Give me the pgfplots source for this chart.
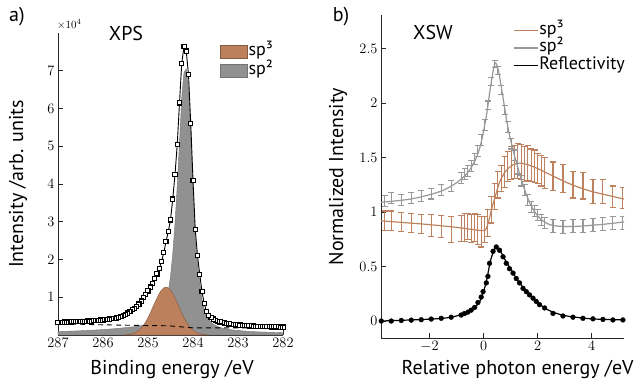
\documentclass[border=0pt]{standalone}
\usepackage{pgfplots}
\pgfplotsset{compat=1.18}
\usepackage{pgfplotstable}
\usepackage{fontspec}
\setmainfont{PT Sans}
\definecolor{sp3fill}{RGB}{189,128,92}
\definecolor{sp2fill}{RGB}{145,145,145}
\definecolor{sp3line}{RGB}{190,130,95}
\definecolor{sp2line}{RGB}{152,152,152}

\pgfplotstableread{
x y sp2 bg
282.00 0.21 0.060 0.19
282.05 0.21 0.062 0.19
282.10 0.21 0.064 0.19
282.15 0.215 0.066 0.19
282.20 0.215 0.068 0.19
282.25 0.215 0.070 0.19
282.30 0.22 0.072 0.19
282.35 0.22 0.074 0.19
282.40 0.22 0.076 0.19
282.45 0.225 0.078 0.19
282.50 0.225 0.080 0.19
282.55 0.23 0.083 0.19
282.60 0.23 0.086 0.19
282.65 0.235 0.089 0.19
282.70 0.235 0.092 0.19
282.75 0.24 0.095 0.19
282.80 0.245 0.100 0.19
282.85 0.25 0.105 0.19
282.90 0.255 0.110 0.19
282.95 0.26 0.115 0.19
283.00 0.265 0.120 0.19
283.05 0.27 0.125 0.19
283.10 0.28 0.130 0.19
283.15 0.285 0.140 0.19
283.20 0.295 0.150 0.19
283.25 0.305 0.160 0.19
283.30 0.315 0.170 0.19
283.35 0.33 0.185 0.19
283.40 0.345 0.200 0.19
283.45 0.365 0.225 0.19
283.50 0.39 0.255 0.19
283.55 0.42 0.290 0.19
283.60 0.46 0.340 0.19
283.65 0.52 0.410 0.19
283.70 0.62 0.520 0.19
283.75 0.83 0.680 0.19
283.80 1.15 0.950 0.19
283.85 1.60 1.380 0.19
283.90 2.10 1.880 0.19
283.95 2.80 2.550 0.19
284.00 4.10 3.850 0.19
284.05 5.60 5.350 0.195
284.10 6.90 6.550 0.20
284.15 7.52 7.050 0.205
284.20 7.64 6.950 0.21
284.25 7.20 6.300 0.215
284.30 6.15 5.100 0.22
284.35 5.05 3.950 0.225
284.40 4.25 2.950 0.23
284.45 3.60 2.150 0.235
284.50 3.05 1.550 0.24
284.55 2.74 1.150 0.243
284.60 2.47 0.880 0.245
284.65 2.18 0.700 0.246
284.70 1.94 0.570 0.247
284.75 1.76 0.480 0.248
284.80 1.62 0.420 0.249
284.85 1.50 0.370 0.25
284.90 1.37 0.340 0.25
284.95 1.27 0.310 0.25
285.00 1.17 0.290 0.25
285.05 1.08 0.275 0.251
285.10 0.99 0.260 0.252
285.15 0.90 0.250 0.253
285.20 0.82 0.240 0.254
285.25 0.76 0.230 0.255
285.30 0.71 0.222 0.256
285.35 0.67 0.215 0.257
285.40 0.62 0.208 0.258
285.45 0.58 0.200 0.259
285.50 0.54 0.195 0.26
285.55 0.51 0.190 0.261
285.60 0.49 0.183 0.262
285.65 0.47 0.177 0.263
285.70 0.455 0.172 0.264
285.75 0.44 0.167 0.265
285.80 0.43 0.162 0.266
285.85 0.42 0.158 0.267
285.90 0.41 0.153 0.268
285.95 0.405 0.149 0.269
286.00 0.40 0.145 0.27
286.05 0.395 0.141 0.271
286.10 0.39 0.137 0.273
286.15 0.385 0.134 0.274
286.20 0.38 0.131 0.276
286.25 0.375 0.128 0.277
286.30 0.37 0.125 0.279
286.35 0.37 0.122 0.28
286.40 0.365 0.119 0.282
286.45 0.36 0.116 0.283
286.50 0.36 0.113 0.285
286.55 0.355 0.111 0.286
286.60 0.35 0.108 0.288
286.65 0.35 0.106 0.289
286.70 0.345 0.104 0.291
286.75 0.345 0.102 0.292
286.80 0.34 0.100 0.294
286.85 0.34 0.098 0.295
286.90 0.335 0.096 0.297
286.95 0.335 0.094 0.298
287.00 0.33 0.092 0.30
}\xps

\pgfplotstableread{
x y
283.65 0
283.70 0.0075
283.75 0.013
283.80 0.021
283.85 0.035
283.90 0.056
283.95 0.086
284.00 0.13
284.05 0.18
284.10 0.26
284.15 0.35
284.20 0.46
284.25 0.58
284.30 0.72
284.35 0.85
284.40 0.98
284.45 1.10
284.50 1.19
284.55 1.25
284.60 1.27
284.65 1.25
284.70 1.19
284.75 1.10
284.80 0.98
284.85 0.85
284.90 0.72
284.95 0.58
285.00 0.46
285.05 0.35
285.10 0.26
285.15 0.18
285.20 0.13
285.25 0.086
285.30 0.056
285.35 0.035
285.40 0.021
285.45 0.013
285.50 0.0075
285.55 0
}\spthreexps

\pgfplotstableread{
x y e
-3.67 1.10 0.05
-3.42 1.13 0.05
-3.05 1.11 0.05
-2.68 1.13 0.05
-2.31 1.15 0.05
-1.94 1.17 0.05
-1.57 1.20 0.05
-1.20 1.24 0.05
-0.83 1.31 0.05
-0.70 1.35 0.05
-0.58 1.38 0.05
-0.46 1.42 0.05
-0.33 1.49 0.05
-0.21 1.56 0.05
-0.09 1.66 0.05
0.04 1.80 0.05
0.16 1.98 0.04
0.28 2.20 0.04
0.41 2.36 0.03
0.53 2.30 0.04
0.65 2.12 0.04
0.78 1.94 0.04
0.90 1.78 0.05
1.02 1.63 0.05
1.15 1.52 0.05
1.27 1.40 0.05
1.40 1.29 0.05
1.52 1.20 0.05
1.64 1.11 0.05
1.77 1.05 0.05
1.89 1.01 0.05
2.01 0.97 0.05
2.14 0.93 0.05
2.26 0.90 0.05
2.57 0.87 0.06
2.94 0.86 0.06
3.31 0.87 0.06
3.68 0.87 0.06
4.05 0.88 0.06
4.42 0.89 0.06
4.79 0.90 0.06
5.16 0.90 0.06
}\sptwopts

\pgfplotstableread{
x y
-3.8 1.09
-3.0 1.11
-2.5 1.13
-2.0 1.16
-1.5 1.20
-1.0 1.27
-0.6 1.36
-0.3 1.48
-0.1 1.63
0.1 1.88
0.25 2.14
0.38 2.33
0.45 2.37
0.55 2.30
0.7 2.08
0.9 1.78
1.1 1.56
1.3 1.38
1.5 1.22
1.7 1.09
1.9 1.00
2.1 0.94
2.4 0.89
2.8 0.87
3.5 0.87
4.5 0.89
5.2 0.91
}\sptwofit

\pgfplotstableread{
x y e
-3.67 0.92 0.09
-3.42 0.92 0.09
-3.05 0.91 0.09
-2.68 0.90 0.09
-2.31 0.89 0.09
-1.94 0.88 0.10
-1.57 0.87 0.10
-1.20 0.84 0.12
-0.83 0.85 0.12
-0.70 0.86 0.13
-0.58 0.87 0.12
-0.46 0.85 0.13
-0.33 0.86 0.13
-0.21 0.84 0.14
-0.09 0.82 0.14
0.04 0.84 0.12
0.16 0.90 0.12
0.28 1.02 0.12
0.41 1.14 0.12
0.53 1.25 0.12
0.65 1.31 0.12
0.78 1.37 0.14
0.90 1.42 0.14
1.02 1.45 0.15
1.15 1.46 0.15
1.27 1.47 0.16
1.40 1.46 0.16
1.52 1.44 0.16
1.64 1.45 0.16
1.77 1.43 0.15
1.89 1.42 0.15
2.01 1.40 0.14
2.14 1.38 0.14
2.26 1.36 0.14
2.57 1.33 0.13
2.94 1.31 0.13
3.31 1.25 0.12
3.68 1.24 0.12
4.05 1.19 0.11
4.42 1.19 0.11
4.79 1.14 0.10
5.16 1.13 0.10
}\spthreepts

\pgfplotstableread{
x y
-3.8 0.92
-3.0 0.905
-2.0 0.885
-1.0 0.86
-0.4 0.84
0.0 0.83
0.1 0.85
0.2 0.93
0.3 1.03
0.45 1.16
0.6 1.28
0.8 1.37
1.0 1.42
1.2 1.445
1.4 1.45
1.7 1.43
2.0 1.40
2.5 1.34
3.0 1.28
3.5 1.23
4.0 1.19
4.5 1.16
5.2 1.12
}\spthreefit

\pgfplotstableread{
x y
-3.79 0.00
-3.42 0.00
-3.05 0.005
-2.68 0.008
-2.31 0.012
-1.94 0.018
-1.57 0.025
-1.20 0.035
-0.83 0.055
-0.71 0.068
-0.58 0.082
-0.46 0.10
-0.33 0.125
-0.21 0.17
-0.09 0.22
-0.02 0.27
0.10 0.35
0.16 0.41
0.22 0.53
0.35 0.64
0.47 0.68
0.59 0.65
0.72 0.59
0.84 0.53
0.96 0.48
1.09 0.44
1.21 0.39
1.33 0.35
1.46 0.30
1.58 0.27
1.70 0.24
1.83 0.21
1.95 0.18
2.07 0.15
2.26 0.12
2.57 0.07
2.94 0.046
3.31 0.035
3.68 0.025
4.05 0.02
4.42 0.015
4.79 0.01
5.16 0.01
}\reflpts

\pgfplotstableread{
x y
-3.8 0.0
-2.0 0.017
-1.2 0.035
-0.6 0.08
-0.3 0.13
-0.1 0.20
0.1 0.36
0.25 0.55
0.4 0.66
0.47 0.675
0.6 0.65
0.8 0.56
1.0 0.48
1.3 0.36
1.6 0.27
2.0 0.17
2.4 0.10
3.0 0.05
4.0 0.02
5.2 0.01
}\reflfit

\begin{document}
\begin{tikzpicture}
\useasboundingbox (0pt,0pt) rectangle (636pt,-381pt);
\pgfplotsset{
  panel/.style={
    scale only axis,
    anchor=south west,
    axis x line*=bottom, axis y line*=left,
    axis line style={black!85, line width=0.8pt},
    tick align=inside, major tick length=5pt,
    tick style={black!85, line width=0.8pt},
    tick label style={font=\fontsize{14}{16}\selectfont},
    label style={font=\fontsize{20}{24}\selectfont},
    legend cell align=left,
  },
  ebars/.style={forget plot, draw=none, mark=none,
    error bars/.cd, y dir=both, y explicit,
    error bar style={#1, line width=1.1pt, solid},
    error mark=|,
    error mark options={#1, line width=1.1pt, mark size=3pt, solid}},
}
% ---------------- a) XPS ----------------
\begin{axis}[panel,
  at={(58pt,-335pt)}, width=225pt, height=302pt,
  xmin=282, xmax=287, ymin=0, ymax=8, x dir=reverse,
  xtick={282,283,284,285,286,287}, ytick={1,2,3,4,5,6,7},
  xlabel={Binding energy /eV}, ylabel={Intensity /arb. units},
  xlabel style={at={(axis description cs:0.507,-0.113)}, anchor=center},
  ylabel style={at={(axis description cs:-0.178,0.5)}, anchor=center},
  reverse legend,
  legend style={at={(axis description cs:0.720,0.965)}, anchor=north west,
    draw=none, fill=none, inner sep=0pt, row sep=2pt,
    font=\fontsize{18}{18}\selectfont,
    nodes={inner sep=1pt, text height=11pt, text depth=3.5pt}},
]
\addplot[fill=sp2fill, draw=black!55, line width=0.4pt,
  legend image code/.code={\draw[fill=sp2fill, draw=black!55] (0pt,-6.5pt) rectangle (27pt,6.5pt);}]
  table[x=x, y=sp2]{\xps} \closedcycle;
\addlegendentry{sp²}
\addplot[fill=sp3fill, draw=sp3fill!70!black, line width=0.4pt,
  legend image code/.code={\draw[fill=sp3fill, draw=sp3fill!70!black] (0pt,-6.5pt) rectangle (27pt,6.5pt);}]
  table[x=x, y=y]{\spthreexps} \closedcycle;
\addlegendentry{sp³}
\addplot[forget plot, black, line width=0.9pt, dash pattern=on 5pt off 4pt] table[x=x, y=bg]{\xps};
\addplot[forget plot, black, line width=0.9pt, mark=square*,
  mark options={fill=white, line width=1.2pt, solid}, mark size=2.1pt] table[x=x, y=y]{\xps};
\end{axis}
% ---------------- b) XSW ----------------
\begin{axis}[panel,
  at={(381pt,-338pt)}, width=243pt, height=323pt,
  xmin=-3.8, xmax=5.2, ymin=-0.156, ymax=2.81,
  xtick={-2,0,2,4}, ytick={0,0.5,1,1.5,2,2.5},
  xlabel={Relative photon energy /eV}, ylabel={Normalized Intensity},
  xlabel style={at={(axis description cs:0.07,-0.096)}, anchor=west},
  ylabel style={at={(axis description cs:-0.177,0.5)}, anchor=center},
  legend style={at={(axis description cs:0.543,0.978)}, anchor=north west,
    draw=none, fill=none, inner sep=0pt, row sep=1pt,
    font=\fontsize{18}{18}\selectfont,
    nodes={inner sep=1pt, text height=11pt, text depth=3.5pt}},
  legend image code/.code={\draw[#1] (0pt,0pt) -- (24pt,0pt);},
]
\addplot[ebars=sp3line] table[x=x, y=y, y error=e]{\spthreepts};
\addplot[sp3line, line width=1.2pt, smooth] table[x=x, y=y]{\spthreefit};
\addlegendentry{sp³}
\addplot[ebars=sp2line] table[x=x, y=y, y error=e]{\sptwopts};
\addplot[sp2line, line width=1.2pt, smooth] table[x=x, y=y]{\sptwofit};
\addlegendentry{sp²}
\addplot[forget plot, black, only marks, mark=*, mark size=2.4pt] table[x=x, y=y]{\reflpts};
\addplot[black, line width=1.2pt, smooth] table[x=x, y=y]{\reflfit};
\addlegendentry{Reflectivity}
\end{axis}
% ---------------- annotations ----------------
\node[font=\fontsize{20}{24}\selectfont] at (17pt,-17pt) {a)};
\node[font=\fontsize{20}{24}\selectfont] at (341pt,-17pt) {b)};
\node[font=\fontsize{20}{24}\selectfont] at (126pt,-33pt) {XPS};
\node[font=\fontsize{20}{24}\selectfont] at (433pt,-32pt) {XSW};
\node[anchor=south west, inner sep=0pt, font=\fontsize{11}{13}\selectfont] at (57pt,-30pt) {$\times10^{4}$};
\end{tikzpicture}
\end{document}
